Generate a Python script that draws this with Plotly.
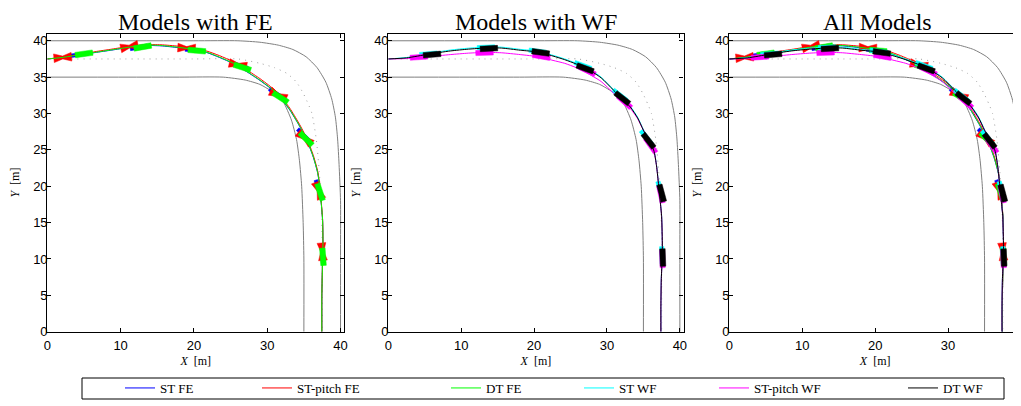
import numpy as np
import plotly.graph_objects as go

# ---------------- data ----------------
# road geometry [m]
road_outer_x = [0, 20, 26, 29, 31.5, 33.5, 35.3, 36.8, 38.0, 38.8, 39.3, 39.6, 39.8, 40, 40, 40]
road_outer_y = [40, 40, 40, 39.8, 39.4, 38.8, 37.8, 36.3, 34.3, 32, 29.5, 26.5, 23, 18, 12, 0]
road_inner_x = [0, 18, 24, 27, 29, 30.4, 31.5, 32.2, 33.3, 34.0, 34.4, 34.7, 34.9, 35, 35]
road_inner_y = [35, 35, 35, 34.6, 34.0, 33.2, 32.4, 31.6, 29.1, 26.4, 23.5, 20, 15, 10, 0]
road_center_x = [0, 20, 26, 29, 31, 32.7, 34, 34.9, 35.6, 36.1, 36.7, 37.1, 37.4, 37.5, 37.5]
road_center_y = [37.5, 37.5, 37.5, 36.9, 36.3, 35.5, 34.3, 32.8, 31.3, 30, 26.4, 22, 17, 12, 0]

# trajectories, models with FE
traj_fe_x = [0, 2, 4.2, 6.5, 8.8, 11, 13.3, 15.5, 17.9, 20, 21.7, 23.5, 25.4, 27.2, 29, 30.2,
             31.3, 32.2, 33.1, 34.3, 35.4, 36.3, 36.9, 37.2, 37.55, 37.6, 37.55, 37.45, 37.45]
st_fe_y = [37.5, 37.68, 38.02, 38.38, 38.72, 39.07, 39.35, 39.3, 39.05, 38.75, 38.4, 37.7, 36.85,
           35.75, 34.55, 33.65, 32.75, 31.65, 30.45, 28.45, 26.35, 23.95, 21.75, 19.45, 15.35,
           11.95, 9.85, 4.75, 0]
stp_fe_y = [37.5, 37.72, 38.1, 38.5, 38.85, 39.2, 39.45, 39.45, 39.25, 38.95, 38.6, 37.95, 37.1,
            36.0, 34.8, 33.9, 33.0, 31.9, 30.7, 28.7, 26.6, 24.2, 22.0, 19.7, 15.5, 12.1, 9.9,
            4.8, 0]
dt_fe_y = [37.5, 37.7, 38.05, 38.4, 38.75, 39.1, 39.4, 39.35, 39.1, 38.8, 38.45, 37.75, 36.9,
           35.8, 34.6, 33.7, 32.8, 31.7, 30.5, 28.5, 26.4, 24.0, 21.8, 19.5, 15.4, 12.0, 9.9,
           4.8, 0]

# trajectories, models with WF
traj_wf_x = [0, 2.5, 5.5, 8.5, 11, 13.3, 15.5, 18.1, 20.6, 22.6, 24.2, 25.8, 27.2, 29.2, 30.9,
             32.1, 33.2, 34.2, 35.0, 36.4, 36.8, 37.04, 37.3, 37.5, 37.6, 37.55, 37.45, 37.4, 37.4]
st_wf_y = [37.5, 37.7, 38.25, 38.72, 38.98, 39.12, 39.12, 38.82, 38.55, 38.0, 37.5, 36.9, 36.3,
           35.0, 33.3, 32.1, 31.0, 29.5, 27.8, 25.1, 22.9, 20.7, 18.1, 15.9, 11.8, 9.6, 7.2,
           3.5, 0]
stp_wf_y = [37.5, 37.55, 37.8, 38.1, 38.3, 38.4, 38.35, 38.1, 37.8, 37.3, 36.9, 36.3, 35.6,
            34.4, 32.8, 31.7, 30.7, 29.3, 27.7, 25.0, 22.8, 20.6, 18.0, 15.8, 11.7, 9.5, 7.1,
            3.5, 0]
dt_wf_y = [37.5, 37.65, 38.15, 38.6, 38.85, 39.0, 39.0, 38.7, 38.45, 37.9, 37.4, 36.8, 36.2,
           34.9, 33.2, 32.0, 30.9, 29.4, 27.7, 25.0, 22.8, 20.6, 18.0, 15.8, 11.7, 9.5, 7.1,
           3.5, 0]

# vehicle poses (centre x, centre y, heading in degrees)
st_fe_veh_x = [4.4, 12.5, 20.0, 26.2, 31.3, 35.0, 37.0, 37.55]
st_fe_veh_y = [38.1, 39.1, 38.7, 36.6, 32.7, 27.0, 19.7, 10.6]
st_fe_veh_h = [8, 10, -5, -18, -33, -45, -72, -86]
stp_fe_veh_x = [2.1, 11.2, 19.0, 26.0, 31.5, 35.1, 37.0, 37.5]
stp_fe_veh_y = [37.7, 39.2, 39.0, 36.7, 32.55, 26.6, 19.4, 11.0]
stp_fe_veh_h = [5, 12, -3, -12, -25, -40, -70, -85]
dt_fe_veh_x = [5.0, 13.0, 20.4, 26.6, 31.8, 35.3, 37.2, 37.6]
dt_fe_veh_y = [38.2, 39.15, 38.65, 36.35, 32.2, 26.5, 19.2, 10.3]
dt_fe_veh_h = [8, 10, -5, -18, -33, -45, -72, -86]

st_wf_veh_x = [5.5, 13.4, 20.5, 26.7, 31.8, 35.4, 37.3, 37.55]
st_wf_veh_y = [38.2, 39.1, 38.55, 36.6, 32.5, 26.7, 19.5, 10.5]
st_wf_veh_h = [5, 3, -8, -20, -38, -52, -75, -88]
stp_wf_veh_x = [4.2, 13.2, 21.0, 27.3, 32.4, 36.0, 37.4, 37.6]
stp_wf_veh_y = [37.75, 38.35, 37.85, 35.9, 31.6, 25.6, 18.9, 10.0]
stp_wf_veh_h = [4, 2, -10, -25, -42, -55, -78, -88]
dt_wf_veh_x = [6.0, 13.8, 20.9, 27.0, 32.1, 35.7, 37.5, 37.65]
dt_wf_veh_y = [38.1, 38.93, 38.4, 36.2, 32.1, 26.25, 19.05, 10.2]
dt_wf_veh_h = [5, 3, -8, -20, -38, -52, -75, -88]

model_names = ["ST FE", "ST-pitch FE", "DT FE", "ST WF", "ST-pitch WF", "DT WF"]
panel_titles = ["Models with FE", "Models with WF", "All Models"]
x_ticks = [0, 10, 20, 30, 40]
y_ticks = [0, 5, 10, 15, 20, 25, 30, 35, 40]

# ---------------- styles ----------------
# the page body has an 8 px margin, so the figure is 1013 x 398 placed at (8, 8)
OFF = 8
FW, FH = 1021 - OFF, 406 - OFF


def sx(p):  # screen x pixel -> paper fraction
    return (p - OFF) / FW


def sy(p):  # screen y pixel -> paper fraction
    return 1 - (p - OFF) / FH


COLORS = {"ST FE": "#0000ff", "ST-pitch FE": "#ff0000", "DT FE": "#00ff00",
          "ST WF": "#00ffff", "ST-pitch WF": "#ff00ff", "DT WF": "#000000"}
LEGEND_W = {"ST FE": 92, "ST-pitch FE": 144, "DT FE": 88, "ST WF": 90,
            "ST-pitch WF": 144, "DT WF": None}
SERIF = "Liberation Serif"
SANS = "Liberation Sans"

models = {
    "ST FE": (traj_fe_x, st_fe_y, st_fe_veh_x, st_fe_veh_y, st_fe_veh_h, "rect", 0.5),
    "ST-pitch FE": (traj_fe_x, stp_fe_y, stp_fe_veh_x, stp_fe_veh_y, stp_fe_veh_h, "bowtie", 1.2),
    "DT FE": (traj_fe_x, dt_fe_y, dt_fe_veh_x, dt_fe_veh_y, dt_fe_veh_h, "rect", 0.75),
    "ST WF": (traj_wf_x, st_wf_y, st_wf_veh_x, st_wf_veh_y, st_wf_veh_h, "rect", 0.6),
    "ST-pitch WF": (traj_wf_x, stp_wf_y, stp_wf_veh_x, stp_wf_veh_y, stp_wf_veh_h, "rect", 0.7),
    "DT WF": (traj_wf_x, dt_wf_y, dt_wf_veh_x, dt_wf_veh_y, dt_wf_veh_h, "rect", 0.75),
}
VEH_L = 2.4


def vehicle_outline(xs, ys, hs, shape, width):
    if shape == "bowtie":
        local = [(-VEH_L / 2, -width / 2), (0, -0.2), (VEH_L / 2, -width / 2),
                 (VEH_L / 2, width / 2), (0, 0.2), (-VEH_L / 2, width / 2),
                 (-VEH_L / 2, -width / 2)]
    else:
        local = [(-VEH_L / 2, -width / 2), (VEH_L / 2, -width / 2), (VEH_L / 2, width / 2),
                 (-VEH_L / 2, width / 2), (-VEH_L / 2, -width / 2)]
    px, py = [], []
    for x, y, h in zip(xs, ys, hs):
        t = np.radians(h)
        c, s = np.cos(t), np.sin(t)
        for lx, ly in local:
            px.append(x + lx * c - ly * s)
            py.append(y + lx * s + ly * c)
        px.append(None)
        py.append(None)
    return px, py


fig = go.Figure()

panels = [
    ("x", "y", ["ST FE", "ST-pitch FE", "DT FE"], True),
    ("x2", "y2", ["ST WF", "ST-pitch WF", "DT WF"], True),
    ("x3", "y3", model_names, False),
]

for xa, ya, names, show in panels:
    for rx, ry, dash in [(road_outer_x, road_outer_y, "solid"),
                         (road_inner_x, road_inner_y, "solid"),
                         (road_center_x, road_center_y, "1px,5px")]:
        fig.add_trace(go.Scatter(
            x=rx, y=ry, mode="lines", xaxis=xa, yaxis=ya, showlegend=False,
            hoverinfo="skip",
            line=dict(color="#7f7f7f" if dash == "solid" else "#a0a0a0", width=1,
                      dash=dash, shape="spline", smoothing=0.6)))
    for name in names:
        tx, ty, vx, vy, vh, shape, vw = models[name]
        col = COLORS[name]
        fig.add_trace(go.Scatter(
            x=tx, y=ty, mode="lines", name=name, legendgroup=name,
            showlegend=show, legendwidth=LEGEND_W[name],
            xaxis=xa, yaxis=ya, hoverinfo="skip",
            line=dict(color=col, width=1, shape="spline", smoothing=0.6)))
        px, py = vehicle_outline(vx, vy, vh, shape, vw)
        fig.add_trace(go.Scatter(
            x=px, y=py, mode="lines", fill="toself", fillcolor=col,
            line=dict(color=col, width=0.5), legendgroup=name, showlegend=False,
            xaxis=xa, yaxis=ya, hoverinfo="skip"))

# axes (screen pixel positions)
x_domains = [(sx(47.3), sx(344.2)), (sx(388.3), sx(683.5)), (sx(729.3), 1.0)]
x_ranges = [[0, 40.5], [0, 40.5], [0, 40.0]]
y_domain = (sy(331.7), sy(33.5))

axis_common = dict(showline=True, linecolor="black", linewidth=1.2, mirror="ticks",
                   ticks="inside", ticklen=4, tickwidth=1, tickcolor="black",
                   showgrid=False, zeroline=False, automargin=False,
                   tickfont=dict(family=SANS, size=13, color="black"))

layout = dict(
    width=FW, height=FH, margin=dict(l=0, r=0, t=0, b=0, pad=0, autoexpand=False),
    paper_bgcolor="white", plot_bgcolor="white",
    showlegend=True,
    legend=dict(orientation="h", x=sx(120), xanchor="left", y=sy(388),
                yanchor="middle", bgcolor="rgba(0,0,0,0)", borderwidth=0,
                font=dict(family=SERIF, size=13, color="black")),
    shapes=[dict(type="rect", xref="paper", yref="paper",
                 x0=sx(82), x1=sx(1004), y0=sy(399), y1=sy(378),
                 line=dict(color="black", width=1), fillcolor="rgba(0,0,0,0)")],
    annotations=[],
)

for i in range(3):
    sfx = "" if i == 0 else str(i + 1)
    layout["xaxis" + sfx] = dict(
        axis_common, domain=x_domains[i], range=x_ranges[i], tickvals=x_ticks,
        anchor="y" + sfx, ticklabelstandoff=2,
        title=dict(text="<i>X</i>  [m]", font=dict(family=SERIF, size=12, color="black"),
                   standoff=4))
    layout["yaxis" + sfx] = dict(
        axis_common, domain=y_domain, range=[0, 41], tickvals=y_ticks,
        anchor="x" + sfx, ticklabelstandoff=-4,
        title=dict(text="<i>Y</i>  [m]", font=dict(family=SERIF, size=12, color="black"),
                   standoff=10))
    cx = (x_domains[i][0] + x_domains[i][1]) / 2
    if i == 2:
        cx = sx(729.3 + 7.33 * 20.25)
    layout["annotations"].append(dict(
        text=panel_titles[i], xref="paper", yref="paper", x=cx, y=sy(22),
        xanchor="center", yanchor="middle", showarrow=False,
        font=dict(family=SERIF, size=24, color="black")))

fig.update_layout(**layout)
fig.write_html("out.html")
